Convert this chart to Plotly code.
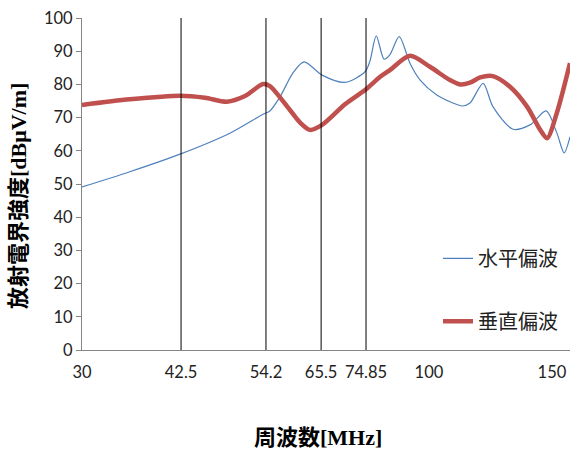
import plotly.graph_objects as go

# Category-axis layout (positions in axis units 0..100) and labels
tick_labels = ["30", "42.5", "54.2", "65.5", "74.85", "100", "150"]
tick_pos = [0, 20.3, 37.7, 49.0, 58.2, 71.1, 96.3]
marker_lines = ["42.5", "54.2", "65.5", "74.85"]

# 水平偏波 (horizontal polarization)
h_x = [0, 9.8, 20.1, 30.3, 37.1, 38.5, 40.6, 43.2, 45.5, 49.2, 53.9, 58.0, 59.0,
       60.3, 61.9, 63.1, 65.0, 67.2, 69.3, 72.7, 76.0, 77.9, 79.5, 82.2, 84.2,
       88.3, 91.8, 95.1, 97.3, 98.8, 100]
h_y = [49.1, 53.7, 59.0, 65.3, 71.0, 72.0, 76.3, 83.4, 86.8, 82.8, 80.6, 83.8, 87.0,
       94.6, 87.6, 89.0, 94.4, 86.4, 81.3, 76.8, 74.4, 73.5, 74.4, 80.3, 73.3,
       66.5, 67.8, 72.0, 65.4, 59.4, 64.2]

# 垂直偏波 (vertical polarization)
v_x = [0, 9.8, 20.1, 25.2, 29.7, 33.4, 37.1, 38.5, 42.6, 44.7, 46.7, 49.2, 53.9,
       58.0, 61.1, 63.1, 67.2, 71.3, 75.4, 77.5, 79.5, 81.6, 84.2, 87.7, 91.2,
       93.9, 95.3, 97.3, 100]
v_y = [73.8, 75.5, 76.6, 76.0, 74.8, 76.5, 80.1, 79.5, 72.3, 68.5, 66.3, 67.8, 74.0,
       78.3, 82.3, 84.3, 88.6, 85.3, 81.3, 80.0, 80.5, 82.1, 82.5, 79.3, 73.3,
       66.3, 63.8, 71.4, 86.4]

fig = go.Figure()
fig.add_trace(go.Scatter(x=h_x, y=h_y, mode="lines", name="水平偏波",
                         legendgroup="h",
                         line=dict(color="#4F81BD", width=1.2, shape="spline", smoothing=0.8)))
fig.add_trace(go.Scatter(x=v_x, y=v_y, mode="lines", name="垂直偏波",
                         legendgroup="v",
                         line=dict(color="#C0504D", width=4.5, shape="spline", smoothing=0.8)))

for lab in marker_lines:
    p = tick_pos[tick_labels.index(lab)]
    fig.add_shape(type="line", xref="x", yref="paper", x0=p, x1=p, y0=0, y1=1,
                  line=dict(color="black", width=1))

title_font = dict(family="Liberation Serif, Noto Sans CJK JP", size=22, color="black")

fig.update_layout(
    width=570, height=453,
    margin=dict(l=82, r=0, t=18, b=103),
    plot_bgcolor="white", paper_bgcolor="white",
    font=dict(family="Lato, Open Sans, sans-serif", size=16.5, color="#222222"),
    showlegend=True,
    legend=dict(x=0.7295, y=0.335, xanchor="left", yanchor="top",
                traceorder="grouped", tracegroupgap=34,
                bgcolor="rgba(0,0,0,0)",
                font=dict(family="Noto Sans CJK JP", size=20, color="#222222")),
    xaxis=dict(range=[0, 100], tickmode="array", tickvals=tick_pos, ticktext=tick_labels,
               showgrid=False, zeroline=False, showline=True, linecolor="#868686",
               linewidth=1, ticks="", ticklabelstandoff=7),
    yaxis=dict(range=[0, 100], dtick=10, showgrid=False, zeroline=False, showline=True,
               linecolor="#868686", linewidth=1, ticks="outside", ticklen=5,
               tickcolor="#868686"),
    annotations=[
        dict(text="<b>周波数[MHz]</b>", xref="paper", yref="paper",
             x=(318 - 82) / 488, y=(350 - 437) / 332, xanchor="center", yanchor="middle",
             showarrow=False, font=title_font),
        dict(text="<b>放射電界強度[dBμV/m]</b>", xref="paper", yref="paper",
             x=(18 - 82) / 488, y=(350 - 196) / 332, xanchor="center", yanchor="middle",
             textangle=-90, showarrow=False, font=title_font),
    ],
)

fig.write_html(
    "out.html",
    config={"displayModeBar": False},
    post_script="document.body.style.margin='0';document.body.style.overflow='hidden';",
)
